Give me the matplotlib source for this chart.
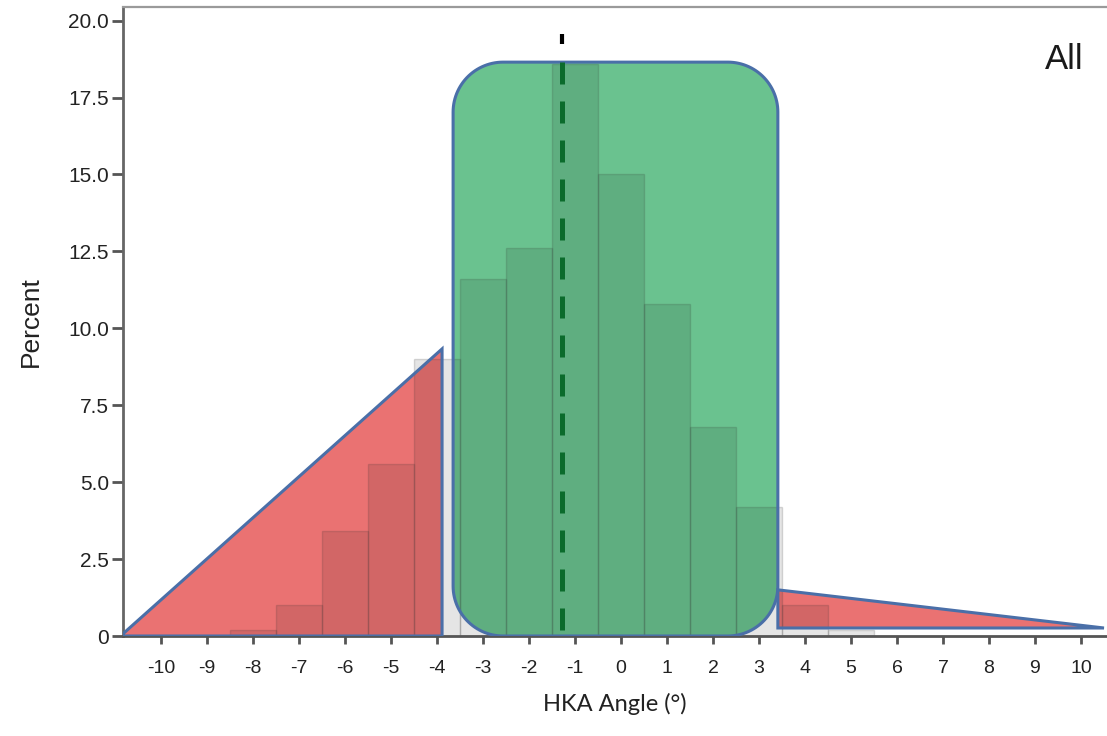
import numpy as np
import matplotlib
matplotlib.use("Agg")
import matplotlib.pyplot as plt
from matplotlib.patches import Polygon

# ---- data ----
bin_centers = [-8, -7, -6, -5, -4, -3, -2, -1, 0, 1, 2, 3, 4, 5]
percent = [0.2, 1.0, 3.4, 5.6, 9.0, 11.6, 12.6, 18.6, 15.0, 10.8, 6.8, 4.2, 1.0, 0.2]
x_ticks = [-10, -9, -8, -7, -6, -5, -4, -3, -2, -1, 0, 1, 2, 3, 4, 5, 6, 7, 8, 9, 10]
x_tick_labels = ["-10", "-9", "-8", "-7", "-6", "-5", "-4", "-3", "-2", "-1",
                 "0", "1", "2", "3", "4", "5", "6", "7", "8", "9", "10"]
y_ticks = [0, 2.5, 5.0, 7.5, 10.0, 12.5, 15.0, 17.5, 20.0]
y_tick_labels = ["0", "2.5", "5.0", "7.5", "10.0", "12.5", "15.0", "17.5", "20.0"]
mean_angle = -1.28

# overlay regions (annotation shapes)
left_tri = [(-10.88, 0.0), (-3.89, 9.33), (-3.89, 0.0)]
right_tri = [(3.41, 1.5), (3.41, 0.26), (10.5, 0.26)]
green_box = (-3.65, 3.41, 0.0, 18.65)  # x0, x1, y0, y1

W, H = 1107, 736
fig = plt.figure(figsize=(W / 100, H / 100), dpi=100)
ax_l, ax_r, ax_b, ax_t = 123, 1107, 636, 7
ax = fig.add_axes([ax_l / W, 1 - ax_b / H, (ax_r - ax_l) / W, (ax_b - ax_t) / H])
px_per_x, x0_px = 46.0, 621.0
px_per_y = 30.77
ax.set_xlim((ax_l - x0_px) / px_per_x, (ax_r - x0_px) / px_per_x)
ax.set_ylim(0, (ax_b - ax_t) / px_per_y)

edge_blue = "#4a6fa8"
red_fill = "#ea7272"
green_fill = "#6ac28f"

# red triangles
ax.add_patch(Polygon(left_tri, closed=True, facecolor=red_fill, edgecolor="none", zorder=1))
ax.add_patch(Polygon(right_tri, closed=True, facecolor=red_fill, edgecolor="none", zorder=1))

# rounded green box with elliptical corners in data units (radius ~50 px)
bx0, bx1, by0, by1 = green_box
r_px = 50
rx, ry = r_px / px_per_x, r_px / px_per_y
def arc(cx, cy, a0, a1, n=30):
    t = np.linspace(np.radians(a0), np.radians(a1), n)
    return np.column_stack([cx + rx * np.cos(t), cy + ry * np.sin(t)])
pts = np.vstack([
    arc(bx1 - rx, by0 + ry, -90, 0),
    arc(bx1 - rx, by1 - ry, 0, 90),
    arc(bx0 + rx, by1 - ry, 90, 180),
    arc(bx0 + rx, by0 + ry, 180, 270),
])
ax.add_patch(Polygon(pts, closed=True, facecolor=green_fill, edgecolor="none", zorder=1))

# histogram bars
ax.bar(bin_centers, percent, width=1.0, facecolor=(0, 0, 0, 0.10),
       edgecolor=(0.2, 0.2, 0.2, 0.18), linewidth=1.0, zorder=2)

# outlines
for shape in (left_tri, right_tri, pts):
    ax.add_patch(Polygon(shape, closed=True, facecolor="none", edgecolor=edge_blue,
                         linewidth=2.2, zorder=3))

# mean dashed line
ax.plot([mean_angle, mean_angle], [by1, 0], color="#0b6b2c", linewidth=3.6,
        linestyle=(0, (4.4, 3.4)), solid_capstyle="butt", dash_capstyle="butt", zorder=4)
ax.plot([mean_angle, mean_angle], [19.25, 19.55], color="black", linewidth=3.0,
        solid_capstyle="butt", zorder=4)

ax.text(9.63, 18.72, "All", fontsize=25, family="Liberation Sans", ha="center", va="center", color="#1a1a1a")

# axes styling
ax.spines["right"].set_visible(False)
ax.spines["top"].set_color("#9a9a9a")
ax.spines["top"].set_linewidth(1.6)
ax.spines["left"].set_color("#666666")
ax.spines["left"].set_linewidth(2.0)
ax.spines["bottom"].set_color("#555555")
ax.spines["bottom"].set_linewidth(2.0)

ax.set_xticks(x_ticks)
ax.set_xticklabels(x_tick_labels, fontsize=14, family="Liberation Sans", color="#222222")
ax.set_yticks(y_ticks)
ax.set_yticklabels(y_tick_labels, fontsize=15, family="Liberation Sans", color="#222222")
ax.tick_params(axis="x", length=6, width=2, color="#555555", pad=11)
ax.tick_params(axis="y", length=8, width=2, color="#555555", pad=2)

ax.set_xlabel("HKA Angle (°)", fontsize=17, family="Lato", color="#222222", labelpad=12)
ax.set_ylabel("Percent", fontsize=19, family="Liberation Sans", color="#222222", labelpad=18)

fig.savefig("out.png", dpi=100)
